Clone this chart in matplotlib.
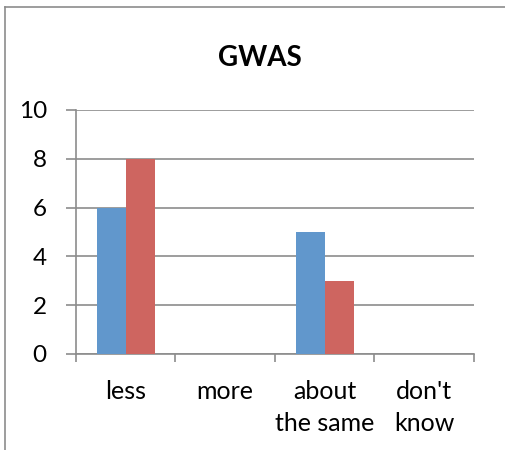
import matplotlib
matplotlib.use("Agg")
import matplotlib.pyplot as plt
from matplotlib.lines import Line2D
import numpy as np

categories = ["less", "more", "about\nthe same", "don't\nknow"]
series_a = [6, 0, 5, 0]
series_b = [8, 0, 3, 0]
yticks = [0, 2, 4, 6, 8, 10]
title = "GWAS"

plt.rcParams['font.family'] = ['Lato', 'DejaVu Sans']

fig = plt.figure(figsize=(5.06, 4.5), dpi=100)
ax = fig.add_axes([76/506, 1-354/450, (474-76)/506, (354-110)/450])

x = np.arange(len(categories))
w = 0.29
ax.bar(x - w/2, series_a, w, color="#6197CC", zorder=3)
ax.bar(x + w/2, series_b, w, color="#CE6560", zorder=3)

gc = "#8C8C8C"
ax.set_xlim(-0.5, len(categories) - 0.5)
ax.set_ylim(0, 10)
ax.set_yticks(yticks)
ax.set_yticklabels([str(t) for t in yticks])
ax.yaxis.grid(True, color=gc, linewidth=1.2, zorder=0)
ax.set_axisbelow(True)

ax.set_xticks(x)
ax.set_xticklabels(categories, linespacing=1.45)
ax.set_xticks(np.arange(-0.5, len(categories)), minor=True)
ax.tick_params(axis='x', which='major', length=0, pad=19, labelsize=18)
ax.tick_params(axis='x', which='minor', length=6, color=gc, width=1.2, direction='out')
ax.tick_params(axis='y', length=7, color=gc, width=1.2, pad=14, labelsize=17.5)

for s in ["top", "right"]:
    ax.spines[s].set_visible(False)
for s in ["left", "bottom"]:
    ax.spines[s].set_color(gc)
    ax.spines[s].set_linewidth(1.2)

fig.text(260/506, 1-58/450, title, ha="center", va="center", fontsize=20, fontweight="bold")

bc = "#8C8C8C"
fig.add_artist(Line2D([5/506, 1.0], [1-7/450, 1-7/450], color=bc, lw=1.2, transform=fig.transFigure))
fig.add_artist(Line2D([5/506, 5/506], [0, 1-7/450], color=bc, lw=1.2, transform=fig.transFigure))

fig.savefig("out.png", dpi=100)
